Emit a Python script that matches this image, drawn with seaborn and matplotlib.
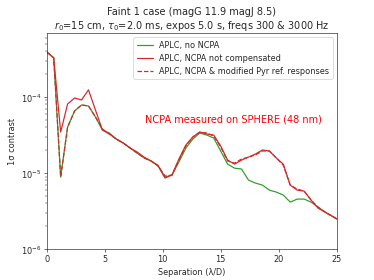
import numpy as np
import pandas as pd
import matplotlib
matplotlib.use("Agg")
import matplotlib.pyplot as plt
import seaborn as sns

# separation grid (lambda/D) and 1-sigma contrast curves
separation = [0.6 * i for i in range(43)]

no_ncpa = [3.91e-4, 3.26e-4, 8.86e-6, 4.03e-5, 6.54e-5, 7.85e-5, 7.62e-5, 5.46e-5,
           3.68e-5, 3.36e-5, 2.80e-5, 2.48e-5, 2.13e-5, 1.83e-5, 1.58e-5, 1.44e-5,
           1.27e-5, 8.86e-6, 9.42e-6, 1.40e-5, 2.13e-5, 2.80e-5, 3.36e-5, 3.16e-5,
           2.89e-5, 1.95e-5, 1.31e-5, 1.16e-5, 1.13e-5, 8.09e-6, 7.38e-6, 6.95e-6,
           5.97e-6, 5.62e-6, 5.14e-6, 4.15e-6, 4.55e-6, 4.55e-6, 4.15e-6, 3.57e-6,
           3.07e-6, 2.72e-6, 2.41e-6]

ncpa_not_comp = [3.91e-4, 3.26e-4, 3.46e-5, 8.09e-5, 9.70e-5, 9.14e-5, 1.24e-4, 6.74e-5,
                 3.68e-5, 3.26e-5, 2.80e-5, 2.48e-5, 2.13e-5, 1.89e-5, 1.62e-5, 1.44e-5,
                 1.24e-5, 8.60e-6, 9.42e-6, 1.53e-5, 2.34e-5, 2.98e-5, 3.46e-5, 3.26e-5,
                 3.16e-5, 2.27e-5, 1.48e-5, 1.31e-5, 1.48e-5, 1.62e-5, 1.78e-5, 2.01e-5,
                 1.95e-5, 1.58e-5, 1.31e-5, 6.95e-6, 5.97e-6, 5.79e-6, 4.41e-6, 3.46e-6,
                 3.07e-6, 2.72e-6, 2.41e-6]

ncpa_modified = [3.91e-4, 3.26e-4, 8.86e-6, 4.03e-5, 6.54e-5, 7.85e-5, 7.62e-5, 5.46e-5,
                 3.79e-5, 3.26e-5, 2.80e-5, 2.48e-5, 2.13e-5, 1.83e-5, 1.58e-5, 1.44e-5,
                 1.24e-5, 9.14e-6, 9.42e-6, 1.48e-5, 2.27e-5, 2.98e-5, 3.46e-5, 3.36e-5,
                 3.07e-5, 2.20e-5, 1.44e-5, 1.35e-5, 1.53e-5, 1.62e-5, 1.73e-5, 1.95e-5,
                 1.95e-5, 1.58e-5, 1.27e-5, 6.95e-6, 6.16e-6, 5.79e-6, 4.41e-6, 3.57e-6,
                 3.07e-6, 2.72e-6, 2.41e-6]

sns.set_style("ticks")
plt.rcParams['font.family'] = ['DejaVu Sans']

fig, ax = plt.subplots(figsize=(6.4, 4.8), dpi=374 / 6.4)
fig.subplots_adjust(left=0.125, right=0.9, bottom=0.11, top=0.88)

sns.lineplot(x=separation, y=no_ncpa, ax=ax, color='tab:green', lw=1.5,
             label='APLC, no NCPA')
sns.lineplot(x=separation, y=ncpa_not_comp, ax=ax, color='tab:red', lw=1.5,
             label='APLC, NCPA not compensated')
sns.lineplot(x=separation, y=ncpa_modified, ax=ax, color='tab:red', lw=1.5,
             linestyle='--', label='APLC, NCPA & modified Pyr ref. responses')

ax.set_yscale('log')
ax.set_xlim(0, 25)
ax.set_ylim(1e-6, 6.9e-4)
ax.set_xlabel('Separation (λ/D)')
ax.set_ylabel('1σ contrast')
ax.set_title('Faint 1 case (magG 11.9 magJ 8.5)\n'
             r'$r_0$=15 cm, $\tau_0$=2.0 ms, expos 5.0 s, freqs 300 & 3000 Hz',
             fontsize=12)
ax.text(8.45, 5.1e-5, 'NCPA measured on SPHERE (48 nm)', color='red',
        fontsize=12, ha='left', va='center')
ax.legend(loc='upper right', fontsize=10)

fig.savefig('out.png')
